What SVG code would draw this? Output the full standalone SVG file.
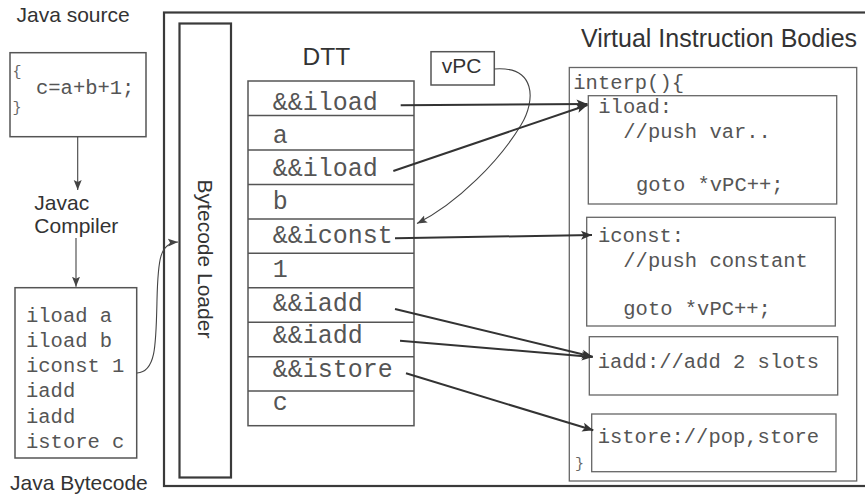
<svg xmlns="http://www.w3.org/2000/svg" width="865" height="497" viewBox="0 0 865 497">
<defs>
<style>
.lbl{font-family:"Liberation Sans",Arial,sans-serif;font-size:21px;fill:#333}
.mono{font-family:"Liberation Mono","Courier New",monospace;font-size:20.5px;fill:#555}
.brace{font-family:"Liberation Mono","Courier New",monospace;font-size:15px;fill:#666}
.dtt{font-family:"Liberation Mono","Courier New",monospace;font-size:25px;fill:#555}
.box{fill:#fff;stroke:#555;stroke-width:1.5}
.body{fill:none;stroke:#666;stroke-width:1.3}
.heavy{fill:none;stroke:#3a3a3a;stroke-width:2.2}
.thick{fill:none;stroke:#333;stroke-width:2;marker-end:url(#ah)}
.thin{fill:none;stroke:#444;stroke-width:1.1;marker-end:url(#at)}
</style>
<marker id="ah" markerUnits="userSpaceOnUse" markerWidth="12" markerHeight="10" refX="11" refY="5" orient="auto"><path d="M0,0.5 L11,5 L0,9.5 L2.5,5 z" fill="#333"/></marker>
<marker id="at" markerUnits="userSpaceOnUse" markerWidth="11" markerHeight="9" refX="10" refY="4.5" orient="auto"><path d="M0,0.5 L10,4.5 L0,8.5 L2,4.5 z" fill="#444"/></marker>
</defs>
<rect x="0" y="0" width="865" height="497" fill="#fff"/>

<g id="vm-frame">
<rect class="heavy" x="164" y="12.5" width="710" height="473.5"/>
</g>

<g id="java-source">
<text class="lbl" x="16.5" y="21.7">Java source</text>
<rect class="box" x="10" y="52.7" width="136" height="84"/>
<text class="brace" x="12.5" y="75.5">{</text>
<text class="mono" x="36" y="94">c=a+b+1;</text>
<text class="brace" x="12.5" y="111.5">}</text>
</g>

<g id="javac">
<text class="lbl" x="34.3" y="210">Javac</text>
<text class="lbl" x="34.3" y="232.5">Compiler</text>
</g>

<g id="java-bytecode">
<rect class="box" x="15" y="287.7" width="121.7" height="170.3"/>
<text class="mono" x="26" y="321.7">iload a</text>
<text class="mono" x="26" y="346.5">iload b</text>
<text class="mono" x="26" y="371.5">iconst 1</text>
<text class="mono" x="26" y="396.7">iadd</text>
<text class="mono" x="26" y="422.5">iadd</text>
<text class="mono" x="26" y="448">istore c</text>
<text class="lbl" x="10" y="490">Java Bytecode</text>
</g>

<g id="bytecode-loader">
<rect class="heavy" x="179.5" y="23.5" width="51.5" height="454"/>
<text class="lbl" transform="translate(198,259) rotate(90)" x="0" y="0" text-anchor="middle">Bytecode Loader</text>
</g>

<g id="dtt">
<text class="lbl" x="326.3" y="65" text-anchor="middle" style="font-size:24.5px">DTT</text>
<rect class="box" x="248" y="81" width="166" height="344.7"/>
<path d="M248,115.5H414M248,150H414M248,184.5H414M248,219H414M248,253.3H414M248,287.7H414M248,322.3H414M248,356.7H414M248,391H414" stroke="#555" stroke-width="1.5" fill="none"/>
<text class="dtt" x="272.7" y="110">&amp;&amp;iload</text>
<text class="dtt" x="272.7" y="142.7">a</text>
<text class="dtt" x="272.7" y="176">&amp;&amp;iload</text>
<text class="dtt" x="272.7" y="209.3">b</text>
<text class="dtt" x="272.7" y="243.3">&amp;&amp;iconst</text>
<text class="dtt" x="272.7" y="276.7">1</text>
<text class="dtt" x="272.7" y="311">&amp;&amp;iadd</text>
<text class="dtt" x="272.7" y="343.3">&amp;&amp;iadd</text>
<text class="dtt" x="272.7" y="376.7">&amp;&amp;istore</text>
<text class="dtt" x="272.7" y="410">c</text>
</g>

<g id="vpc">
<rect class="box" x="431" y="51.7" width="63.3" height="33.3"/>
<text class="lbl" x="441.7" y="72.7">vPC</text>
</g>

<g id="virtual-instruction-bodies">
<text class="lbl" x="581" y="46.7" style="font-size:25px">Virtual Instruction Bodies</text>
<rect class="body" x="569.3" y="67.5" width="287.4" height="413.5"/>
<text class="mono" x="573.3" y="88.5">interp(){</text>
<text class="brace" x="575" y="468">}</text>
</g>

<g id="body-iload">
<rect class="body" x="588.3" y="95.7" width="248.4" height="108.3"/>
<text class="mono" x="598.3" y="113.3">iload:</text>
<text class="mono" x="623.3" y="138.3">//push var..</text>
<text class="mono" x="636" y="191">goto *vPC++;</text>
</g>

<g id="body-iconst">
<rect class="body" x="586.7" y="217.3" width="248.6" height="108.7"/>
<text class="mono" x="598" y="242.3">iconst:</text>
<text class="mono" x="623.3" y="266.7">//push constant</text>
<text class="mono" x="623.3" y="315">goto *vPC++;</text>
</g>

<g id="body-iadd">
<rect class="body" x="589.3" y="336.7" width="248.4" height="58.3"/>
<text class="mono" x="597.7" y="368.3">iadd://add 2 slots</text>
</g>

<g id="body-istore">
<rect class="body" x="591.7" y="414" width="244.3" height="57.7"/>
<text class="mono" x="597.7" y="443.3">istore://pop,store</text>
</g>

<g id="connectors">
<path class="thin" d="M77.7,136.7 V190"/>
<path class="thin" d="M76,238 V286.7"/>
<path class="thin" d="M137,373 C156,372 156,345 157,300 C158,258 160,243 178,242"/>
<path class="thin" d="M494.3,69 C536,66 536,100 521,125 C500,160 458,203 417,223.5"/>
<path class="thick" d="M400.7,105.3 L587.5,104"/>
<path class="thick" d="M393.3,171 L587.5,105"/>
<path class="thick" d="M395,238.3 L592,235"/>
<path class="thick" d="M395,309 L592.7,356.7"/>
<path class="thick" d="M400,340.7 L592.7,357"/>
<path class="thick" d="M406,373.3 L593.3,430.3"/>
</g>
</svg>
